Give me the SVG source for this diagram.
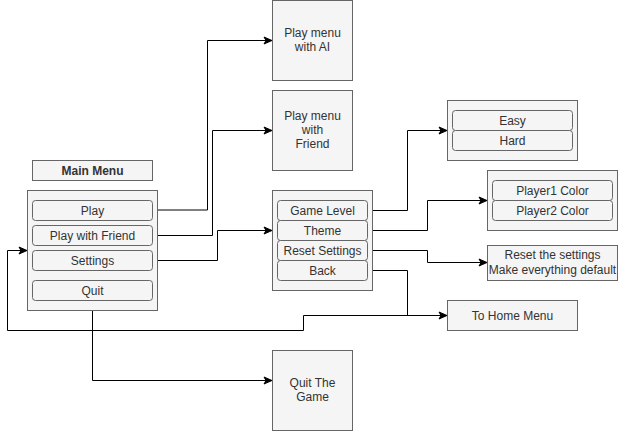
<svg xmlns="http://www.w3.org/2000/svg" width="618" height="432" viewBox="0 0 618 432">
<style>
.box{fill:#f5f5f5;stroke:#666666;stroke-width:1}
.btn{fill:#f5f5f5;stroke:#666666;stroke-width:1}
.t{font-family:"Liberation Sans",Arial,Helvetica,sans-serif;font-size:12px;fill:#333333;text-anchor:middle}
.b{font-weight:bold}
.e{fill:none;stroke:#000000;stroke-width:1}
</style>
<defs>
<marker id="arr" markerUnits="userSpaceOnUse" markerWidth="9" markerHeight="9" refX="8" refY="4" orient="auto" overflow="visible">
<path d="M0,0.5 L8,4 L0,7.5 L2,4 Z" fill="#000000" stroke="#000000" stroke-width="1"/>
</marker>
</defs>
<rect width="618" height="432" fill="#ffffff"/>
<g id="connectors">
<path class="e" d="M152,210 H207.5 V40.5 H272" marker-end="url(#arr)"/>
<path class="e" d="M152,235.5 H212.5 V130.5 H272" marker-end="url(#arr)"/>
<path class="e" d="M152,260.5 H217.5 V230.5 H272" marker-end="url(#arr)"/>
<path class="e" d="M92.5,300 V380.5 H272" marker-end="url(#arr)"/>
<path class="e" d="M367,210.5 H407.5 V130.5 H447" marker-end="url(#arr)"/>
<path class="e" d="M367,230.5 H427.5 V200.5 H487" marker-end="url(#arr)"/>
<path class="e" d="M367,250.5 H427.5 V262.5 H487" marker-end="url(#arr)"/>
<path class="e" d="M367,270.5 H407.5 V315.5 H447" marker-end="url(#arr)"/>
<path class="e" d="M447,315.5 H303.5 V330.5 H7.5 V250.5 H27" marker-end="url(#arr)"/>
</g>
<g id="main-menu-label">
<rect class="box" x="32.5" y="160.5" width="120" height="20"/>
<text class="t b" x="92.5" y="175">Main Menu</text>
</g>
<g id="main-menu">
<rect class="box" x="27.5" y="190.5" width="130" height="120"/>
<rect class="btn" x="32.5" y="200.5" width="120" height="20" rx="3"/>
<text class="t" x="92.5" y="215">Play</text>
<rect class="btn" x="32.5" y="225.5" width="120" height="20" rx="3"/>
<text class="t" x="92.5" y="240">Play with Friend</text>
<rect class="btn" x="32.5" y="250.5" width="120" height="20" rx="3"/>
<text class="t" x="92.5" y="265">Settings</text>
<rect class="btn" x="32.5" y="280.5" width="120" height="20" rx="3"/>
<text class="t" x="92.5" y="295">Quit</text>
</g>
<g id="play-ai">
<rect class="box" x="272.5" y="0.5" width="80" height="80"/>
<text class="t" x="312.5" y="37">Play menu</text>
<text class="t" x="312.5" y="51">with AI</text>
</g>
<g id="play-friend">
<rect class="box" x="272.5" y="90.5" width="80" height="80"/>
<text class="t" x="312.5" y="120">Play menu</text>
<text class="t" x="312.5" y="134">with</text>
<text class="t" x="312.5" y="148">Friend</text>
</g>
<g id="settings">
<rect class="box" x="272.5" y="190.5" width="100" height="100"/>
<rect class="btn" x="277.5" y="200.5" width="90" height="20" rx="3"/>
<text class="t" x="322.5" y="215">Game Level</text>
<rect class="btn" x="277.5" y="220.5" width="90" height="20" rx="3"/>
<text class="t" x="322.5" y="235">Theme</text>
<rect class="btn" x="277.5" y="240.5" width="90" height="20" rx="3"/>
<text class="t" x="322.5" y="255">Reset Settings</text>
<rect class="btn" x="277.5" y="260.5" width="90" height="20" rx="3"/>
<text class="t" x="322.5" y="275">Back</text>
</g>
<g id="game-level">
<rect class="box" x="447.5" y="100.5" width="130" height="60"/>
<rect class="btn" x="452.5" y="110.5" width="120" height="20" rx="3"/>
<text class="t" x="512.5" y="125">Easy</text>
<rect class="btn" x="452.5" y="130.5" width="120" height="20" rx="3"/>
<text class="t" x="512.5" y="145">Hard</text>
</g>
<g id="theme">
<rect class="box" x="487.5" y="170.5" width="130" height="60"/>
<rect class="btn" x="492.5" y="180.5" width="120" height="20" rx="3"/>
<text class="t" x="552.5" y="195">Player1 Color</text>
<rect class="btn" x="492.5" y="200.5" width="120" height="20" rx="3"/>
<text class="t" x="552.5" y="215">Player2 Color</text>
</g>
<g id="reset">
<rect class="box" x="487.5" y="245.5" width="130" height="35"/>
<text class="t" x="552.5" y="259">Reset the settings</text>
<text class="t" x="552.5" y="274">Make everything default</text>
</g>
<g id="home">
<rect class="box" x="447.5" y="300.5" width="130" height="30"/>
<text class="t" x="512.5" y="320">To Home Menu</text>
</g>
<g id="quit-game">
<rect class="box" x="272.5" y="350.5" width="80" height="80"/>
<text class="t" x="312.5" y="387">Quit The</text>
<text class="t" x="312.5" y="401">Game</text>
</g>
</svg>
